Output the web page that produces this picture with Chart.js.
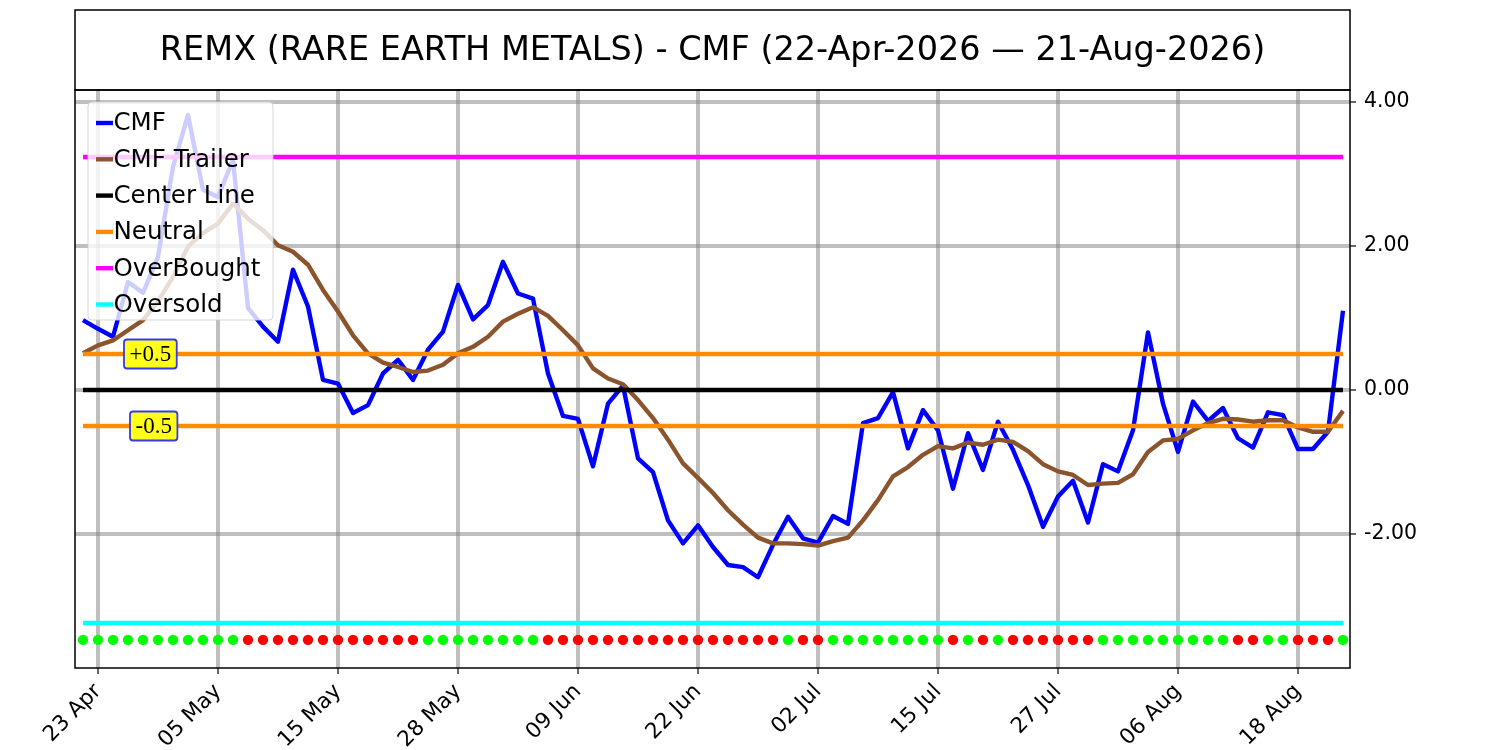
<!DOCTYPE html>
<html>
<head>
<meta charset="utf-8">
<script src="https://cdn.jsdelivr.net/npm/chart.js@4.4.1/dist/chart.umd.min.js"></script>
<style>
html,body{margin:0;padding:0;background:#fff;}
#wrap{width:1500px;height:750px;position:relative;}
</style>
</head>
<body>
<div id="wrap"><canvas id="c" width="1500" height="750"></canvas></div>
<script>
// ---------- DATA ----------
const dates = [
  '22 Apr','23 Apr','24 Apr','27 Apr','28 Apr','29 Apr','30 Apr',
  '01 May','04 May','05 May','06 May','07 May','08 May','11 May','12 May','13 May','14 May','15 May',
  '18 May','19 May','20 May','21 May','22 May','26 May','27 May','28 May','29 May',
  '01 Jun','02 Jun','03 Jun','04 Jun','05 Jun','08 Jun','09 Jun','10 Jun','11 Jun','12 Jun',
  '15 Jun','16 Jun','17 Jun','18 Jun','22 Jun','23 Jun','24 Jun','25 Jun','26 Jun','29 Jun','30 Jun',
  '01 Jul','02 Jul','06 Jul','07 Jul','08 Jul','09 Jul','10 Jul','13 Jul','14 Jul','15 Jul','16 Jul','17 Jul',
  '20 Jul','21 Jul','22 Jul','23 Jul','24 Jul','27 Jul','28 Jul','29 Jul','30 Jul','31 Jul',
  '03 Aug','04 Aug','05 Aug','06 Aug','07 Aug','10 Aug','11 Aug','12 Aug','13 Aug','14 Aug',
  '17 Aug','18 Aug','19 Aug','20 Aug','21 Aug'
];
const cmf = [
  0.97, 0.85, 0.74, 1.50, 1.35, 1.85, 3.10, 3.82, 2.78, 2.68,
  3.20, 1.14, 0.88, 0.67, 1.67, 1.16, 0.14, 0.09, -0.32, -0.21,
  0.23, 0.42, 0.14, 0.56, 0.81, 1.46, 0.98, 1.18, 1.78, 1.34,
  1.27, 0.23, -0.36, -0.40, -1.06, -0.19, 0.06, -0.95, -1.14, -1.81,
  -2.13, -1.88, -2.18, -2.43, -2.46, -2.60, -2.15, -1.76, -2.06, -2.12,
  -1.75, -1.86, -0.46, -0.39, -0.03, -0.81, -0.28, -0.56, -1.37, -0.60,
  -1.11, -0.44, -0.83, -1.32, -1.90, -1.48, -1.26, -1.84, -1.03, -1.13,
  -0.56, 0.80, -0.19, -0.86, -0.16, -0.43, -0.25, -0.67, -0.80, -0.31,
  -0.35, -0.82, -0.82, -0.58, 1.10
];
const trailer = [
  0.51, 0.62, 0.69, 0.83, 0.97, 1.23, 1.57, 1.99, 2.18, 2.31,
  2.59, 2.38, 2.22, 2.01, 1.92, 1.74, 1.39, 1.09, 0.76, 0.51,
  0.38, 0.32, 0.25, 0.27, 0.35, 0.51, 0.60, 0.74, 0.95, 1.06,
  1.15, 1.03, 0.83, 0.62, 0.30, 0.16, 0.08, -0.14, -0.39, -0.69,
  -1.02, -1.22, -1.43, -1.67, -1.87, -2.05, -2.13, -2.13, -2.14, -2.16,
  -2.10, -2.05, -1.81, -1.53, -1.20, -1.07, -0.90, -0.78, -0.81, -0.73,
  -0.76, -0.69, -0.72, -0.85, -1.03, -1.13, -1.18, -1.32, -1.30, -1.29,
  -1.17, -0.86, -0.70, -0.68, -0.56, -0.46, -0.40, -0.41, -0.44, -0.42,
  -0.42, -0.52, -0.58, -0.58, -0.29
];
// 1 = green dot, 0 = red dot
const signal = [
  1,1,1,1,1,1,1,1,1,1, 1,0,0,0,0,0,0,0,0,0,
  0,0,0,1,1,1,1,1,1,1, 1,0,0,0,0,0,0,0,0,0,
  0,0,0,0,0,0,0,1,0,0, 1,1,1,1,1,1,1,1,0,1,
  0,1,0,0,0,0,0,0,1,1, 1,1,1,1,1,1,1,0,0,1,
  1,0,0,0,1
];
const tickIdx = [1, 9, 17, 25, 33, 41, 49, 57, 65, 73, 81];
const yTickValues = [-2, 0, 2, 4];
const centerLevel = 0;
const neutralLevels = [0.5, -0.5];
const overBoughtLevel = 3.236;
const overSoldLevel = -3.236;
const signalLevel = -3.47;
const titleText = 'REMX (RARE EARTH METALS) - CMF (22-Apr-2026 \u2014 21-Aug-2026)';

// ---------- BUILD ----------
const lastIdx = dates.length - 1;
const hLine = v => [{x: 0, y: v}, {x: lastIdx, y: v}];
const COL = {
  cmf: '#0000ff', trailer: '#8b542d', center: '#000000',
  neutral: '#ff8c00', ob: '#ff00ff', os: '#00ffff',
  green: '#00ff00', red: '#ff0000'
};
const LW = 4.4;
const lineDs = (label, data, color, order) => ({
  type: 'line', label, data, borderColor: color, backgroundColor: color,
  borderWidth: LW, pointRadius: 0, tension: 0, fill: false, order,
  borderCapStyle: 'butt', borderJoinStyle: 'round'
});

const datasets = [
  lineDs('CMF', cmf.map((v, i) => ({x: i, y: v})), COL.cmf, 4),
  lineDs('CMF Trailer', trailer.map((v, i) => ({x: i, y: v})), COL.trailer, 3),
  lineDs('Center Line', hLine(centerLevel), COL.center, 2),
  lineDs('Neutral', hLine(neutralLevels[0]), COL.neutral, 2),
  lineDs('Neutral2', hLine(neutralLevels[1]), COL.neutral, 2),
  lineDs('OverBought', hLine(overBoughtLevel), COL.ob, 2),
  lineDs('Oversold', hLine(overSoldLevel), COL.os, 2),
  {
    type: 'scatter', label: 'Signal',
    data: signal.map((s, i) => ({x: i, y: signalLevel})),
    pointRadius: 5.2, pointBorderWidth: 0,
    pointBackgroundColor: signal.map(s => s ? COL.green : COL.red),
    showLine: false, order: 1
  }
];

const legendItems = [
  ['CMF', COL.cmf], ['CMF Trailer', COL.trailer], ['Center Line', COL.center],
  ['Neutral', COL.neutral], ['OverBought', COL.ob], ['Oversold', COL.os]
];

function roundRect(ctx, x, y, w, h, r) {
  ctx.beginPath();
  ctx.moveTo(x + r, y);
  ctx.lineTo(x + w - r, y); ctx.quadraticCurveTo(x + w, y, x + w, y + r);
  ctx.lineTo(x + w, y + h - r); ctx.quadraticCurveTo(x + w, y + h, x + w - r, y + h);
  ctx.lineTo(x + r, y + h); ctx.quadraticCurveTo(x, y + h, x, y + h - r);
  ctx.lineTo(x, y + r); ctx.quadraticCurveTo(x, y, x + r, y);
  ctx.closePath();
}

function drawTag(ctx, text, left, yc) {
  ctx.font = '23px "Liberation Serif", "DejaVu Serif", serif';
  const w = ctx.measureText(text).width + 11;
  const h = 29;
  roundRect(ctx, left, yc - h / 2, w, h, 3);
  ctx.fillStyle = '#ffff1a';
  ctx.fill();
  ctx.lineWidth = 1.8;
  ctx.strokeStyle = '#3838f0';
  ctx.stroke();
  ctx.fillStyle = '#000';
  ctx.textAlign = 'center';
  ctx.textBaseline = 'middle';
  ctx.fillText(text, left + w / 2, yc + 1);
}

const deco = {
  id: 'deco',
  afterDraw(chart) {
    const ctx = chart.ctx, a = chart.chartArea, ys = chart.scales.y;
    ctx.save();
    // neutral tags
    drawTag(ctx, '+0.5', 124, ys.getPixelForValue(neutralLevels[0]));
    drawTag(ctx, '-0.5', 130, ys.getPixelForValue(neutralLevels[1]));
    // legend
    const lx = 88, ly = 102, lw = 185, lh = 218;
    roundRect(ctx, lx, ly, lw, lh, 4);
    ctx.fillStyle = 'rgba(255,255,255,0.8)';
    ctx.fill();
    ctx.lineWidth = 1;
    ctx.strokeStyle = 'rgba(204,204,204,0.8)';
    ctx.stroke();
    ctx.font = '24.5px "DejaVu Sans"';
    ctx.textAlign = 'left';
    ctx.textBaseline = 'middle';
    legendItems.forEach(([label, color], i) => {
      const y = 123 + i * 36.3;
      ctx.beginPath();
      ctx.moveTo(96, y); ctx.lineTo(113, y);
      ctx.lineWidth = LW; ctx.strokeStyle = color; ctx.lineCap = 'butt';
      ctx.stroke();
      ctx.fillStyle = '#000';
      ctx.fillText(label, 113.5, y + 1);
    });
    // frame
    ctx.strokeStyle = '#000';
    ctx.lineWidth = 1.5;
    ctx.strokeRect(a.left, a.top, a.right - a.left, a.bottom - a.top);
    // title box
    ctx.strokeRect(a.left, 10, a.right - a.left, a.top - 10);
    ctx.font = '33.5px "DejaVu Sans"';
    ctx.textAlign = 'center';
    ctx.textBaseline = 'middle';
    ctx.fillStyle = '#000';
    ctx.fillText(titleText, (a.left + a.right) / 2, (10 + a.top) / 2 + 1);
    ctx.restore();
  }
};

new Chart(document.getElementById('c'), {
  type: 'line',
  data: { datasets },
  options: {
    responsive: false,
    devicePixelRatio: 1,
    animation: false,
    events: [],
    layout: { padding: { left: 75, top: 90, right: 0, bottom: 0 } },
    plugins: { legend: { display: false }, tooltip: { enabled: false }, title: { display: false } },
    scales: {
      x: {
        type: 'linear', position: 'bottom',
        min: -0.533, max: 84.467,
        afterBuildTicks: s => { s.ticks = tickIdx.map(v => ({ value: v })); },
        afterFit: s => { s.height = 82; s.paddingLeft = 0; s.paddingRight = 0; },
        ticks: {
          autoSkip: false, minRotation: 45, maxRotation: 45, padding: 5,
          color: '#000', font: { family: 'DejaVu Sans', size: 21.5 },
          callback: v => dates[v] !== undefined ? dates[v] : ''
        },
        grid: {
          color: 'rgba(128,128,128,0.5)', lineWidth: 4,
          drawTicks: true, tickLength: 6, tickColor: '#000', tickWidth: 1.2
        },
        border: { display: false }
      },
      y: {
        type: 'linear', position: 'right',
        min: -3.861, max: 4.1667,
        afterBuildTicks: s => { s.ticks = yTickValues.map(v => ({ value: v })); },
        afterFit: s => { s.width = 150; },
        ticks: {
          padding: 8, color: '#000', font: { family: 'DejaVu Sans', size: 20.5 },
          callback: v => Number(v).toFixed(2)
        },
        grid: {
          color: 'rgba(128,128,128,0.5)', lineWidth: 4,
          drawTicks: true, tickLength: 6, tickColor: '#000', tickWidth: 1.2
        },
        border: { display: false }
      }
    }
  },
  plugins: [deco]
});
</script>
</body>
</html>
